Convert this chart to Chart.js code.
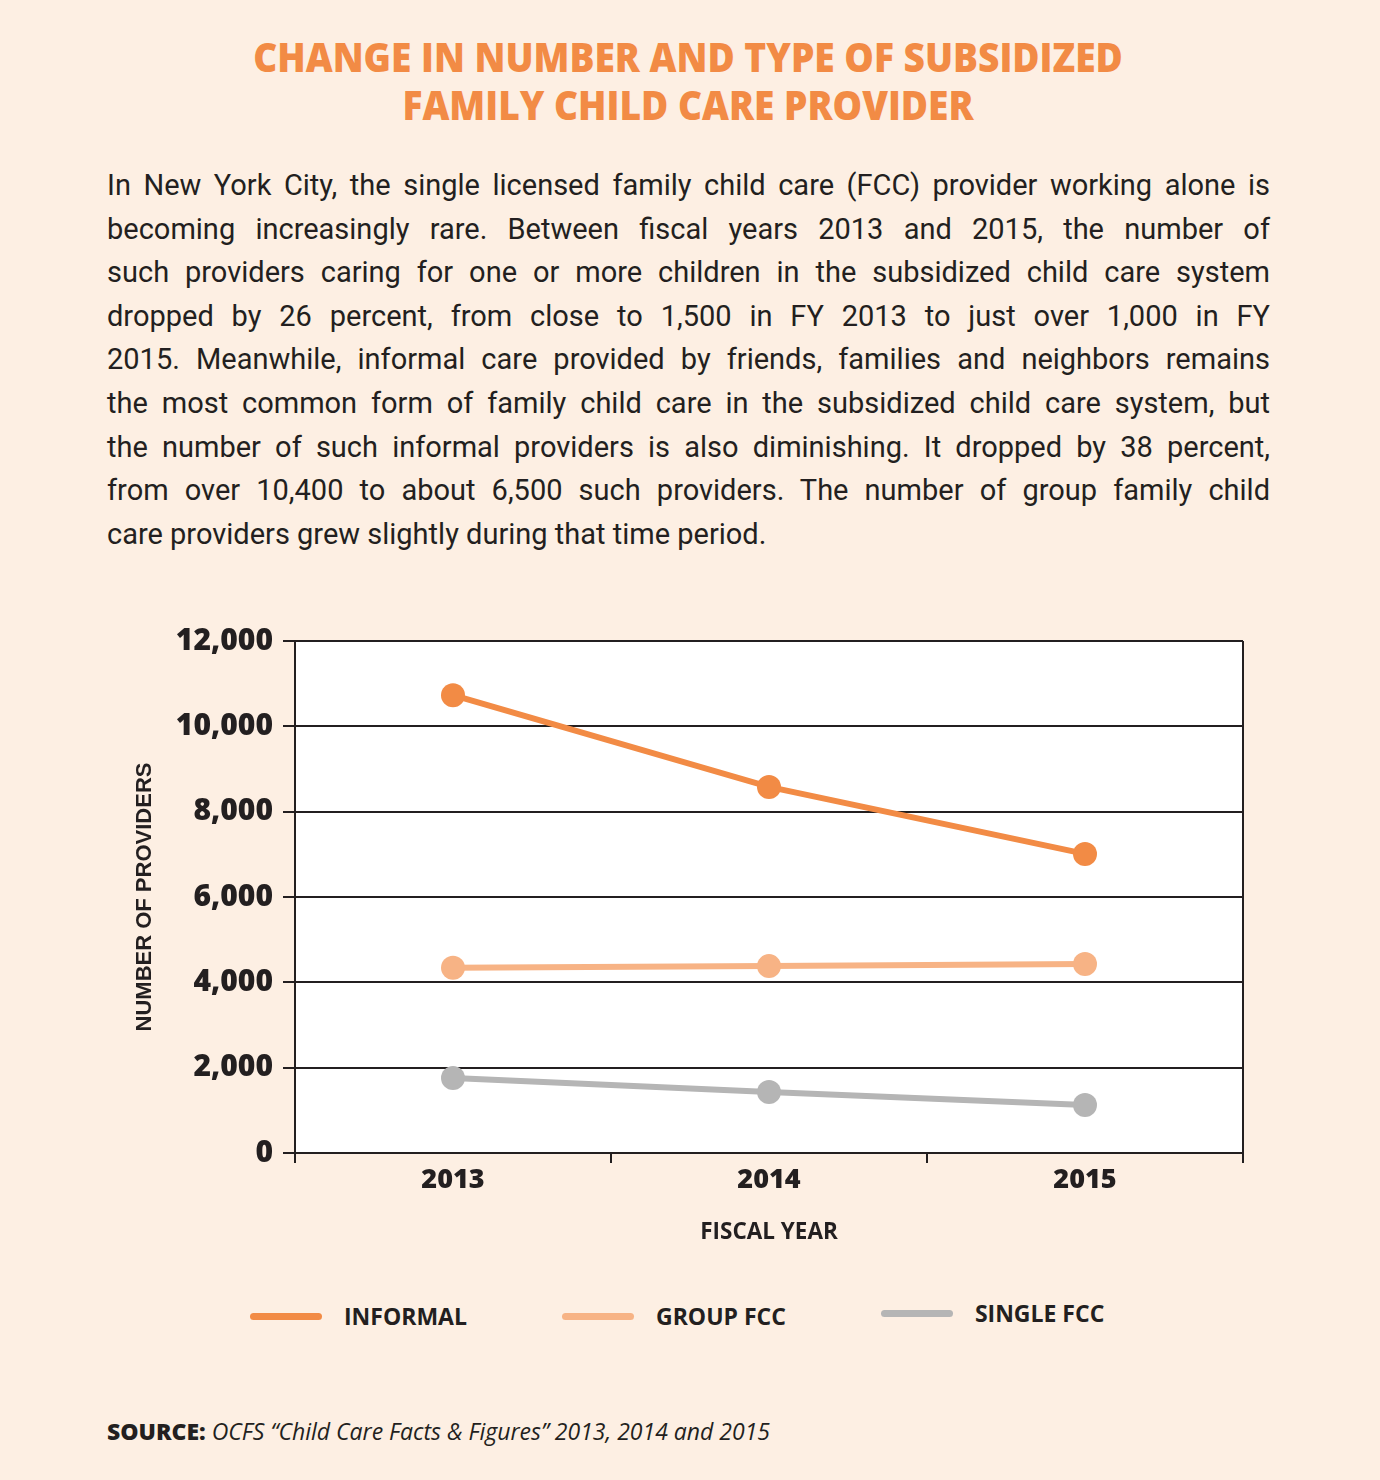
<!DOCTYPE html>
<html>
<head>
<meta charset="utf-8">
<script src="https://cdn.jsdelivr.net/npm/chart.js@4.4.1/dist/chart.umd.min.js"></script>
<style>
  body { margin: 0; background: #fdefe3; width: 1380px; height: 1480px; position: relative; overflow: hidden; color: #231f20; }
  .sans { font-family: "Open Sans", "DejaVu Sans", sans-serif; }
  #title { position: absolute; top: 32px; left: 0; width: 1376px; text-align: center; font-size: 41px; line-height: 48px; font-weight: 800; color: #f28b45; transform: scaleX(0.905); transform-origin: 688px 0; }
  #intro { position: absolute; top: 164px; left: 107px; width: 1163px; font-family: Roboto, sans-serif; font-size: 29px; }
  #intro div { height: 43.6px; line-height: 43.6px; text-align: justify; text-align-last: justify; }
  #intro div.last { text-align-last: left; }
  #chartBox { position: absolute; left: 0; top: 600px; width: 1380px; height: 680px; }
  #legend { position: absolute; left: 250px; top: 1300px; height: 32px; display: flex; align-items: center; }
  .item { display: flex; align-items: center; margin-right: 95px; font-size: 23px; font-weight: bold; }
  .item:nth-child(3) { transform: translateY(-3px); }
  .swatch { width: 72px; height: 7px; border-radius: 4px; margin-right: 22px; }
  #source { position: absolute; left: 107px; top: 1415px; font-size: 23px; line-height: normal; }
  #source b { font-weight: 800; }
  #source i { font-weight: 400; }
</style>
</head>
<body>
<div id="title" class="sans">CHANGE IN NUMBER AND TYPE OF SUBSIDIZED<br>FAMILY CHILD CARE PROVIDER</div>
<div id="intro"></div>
<div id="chartBox"><canvas id="chart"></canvas></div>
<div id="legend" class="sans"></div>
<div id="source" class="sans"><b>SOURCE:</b> <i>OCFS “Child Care Facts &amp; Figures” 2013, 2014 and 2015</i></div>
<script>
const years = ['2013', '2014', '2015'];
const informal = [10730, 8580, 7010];
const groupFcc = [4340, 4380, 4430];
const singleFcc = [1760, 1430, 1125];
const seriesNames = ['INFORMAL', 'GROUP FCC', 'SINGLE FCC'];
const seriesColors = ['#f28b45', '#f7b385', '#b5b5b5'];
const yTicks = [0, 2000, 4000, 6000, 8000, 10000, 12000];

const introLines = [
  'In New York City, the single licensed family child care (FCC) provider working alone is',
  'becoming increasingly rare. Between fiscal years 2013 and 2015, the number of',
  'such providers caring for one or more children in the subsidized child care system',
  'dropped by 26 percent, from close to 1,500 in FY 2013 to just over 1,000 in FY',
  '2015. Meanwhile, informal care provided by friends, families and neighbors remains',
  'the most common form of family child care in the subsidized child care system, but',
  'the number of such informal providers is also diminishing. It dropped by 38 percent,',
  'from over 10,400 to about 6,500 such providers. The number of group family child',
  'care providers grew slightly during that time period.'
];

const intro = document.getElementById('intro');
introLines.forEach((line, i) => {
  const d = document.createElement('div');
  d.textContent = line;
  if (i === introLines.length - 1) d.className = 'last';
  intro.appendChild(d);
});

const legend = document.getElementById('legend');
seriesNames.forEach((name, i) => {
  const item = document.createElement('div');
  item.className = 'item';
  item.innerHTML = '<span class="swatch" style="background:' + seriesColors[i] + '"></span>' + name;
  legend.appendChild(item);
});

const openSans = '"Open Sans", "DejaVu Sans", sans-serif';
const ink = '#231f20';

const plotFrame = {
  id: 'plotFrame',
  beforeDraw(chart) {
    const { ctx, chartArea: a } = chart;
    ctx.save();
    ctx.fillStyle = '#ffffff';
    ctx.fillRect(a.left, a.top, a.right - a.left, a.bottom - a.top);
    ctx.restore();
  },
  afterDatasetsDraw(chart) {
    const { ctx, chartArea: a } = chart;
    ctx.save();
    ctx.strokeStyle = ink;
    ctx.lineWidth = 2;
    ctx.beginPath();
    ctx.moveTo(a.right, a.top);
    ctx.lineTo(a.right, a.bottom + 10);
    ctx.stroke();
    ctx.restore();
  }
};

const series = [informal, groupFcc, singleFcc];

new Chart(document.getElementById('chart'), {
  type: 'line',
  data: {
    labels: years,
    datasets: series.map((values, i) => ({
      label: seriesNames[i],
      data: values,
      borderColor: seriesColors[i],
      backgroundColor: seriesColors[i],
      pointBackgroundColor: seriesColors[i],
      borderWidth: 6,
      pointRadius: 12,
      pointBorderWidth: 0,
      pointHoverRadius: 12,
      tension: 0
    }))
  },
  options: {
    responsive: true,
    maintainAspectRatio: false,
    animation: false,
    layout: { padding: { left: 120, right: 137, top: 41, bottom: 27 } },
    plugins: { legend: { display: false }, tooltip: { enabled: false } },
    scales: {
      x: {
        offset: true,
        afterFit: (s) => { s.height = 100; },
        grid: { offset: true, drawOnChartArea: false, color: ink, lineWidth: 2, tickLength: 10, tickColor: ink },
        border: { color: ink, width: 2 },
        ticks: { color: ink, padding: 1, font: { family: openSans, size: 27, weight: '800' } },
        title: { display: true, text: 'FISCAL YEAR', color: ink, padding: { top: 0, bottom: 7 }, font: { family: openSans, size: 22.5, weight: 'bold' } }
      },
      y: {
        min: 0,
        max: 12000,
        afterFit: (s) => { s.width = 175; },
        afterBuildTicks: (s) => { s.ticks = yTicks.map(v => ({ value: v })); },
        grid: { color: ink, lineWidth: 2, tickLength: 12, tickColor: ink },
        border: { color: ink, width: 2 },
        ticks: {
          color: ink,
          padding: 10,
          font: { family: openSans, size: 30, weight: '800' },
          callback: (v) => v.toLocaleString('en-US')
        },
        title: { display: true, text: 'NUMBER OF PROVIDERS', color: ink, padding: 12, font: { family: '"Liberation Sans", Arial, sans-serif', size: 22, weight: 'bold' } }
      }
    }
  },
  plugins: [plotFrame]
});
</script>
</body>
</html>
